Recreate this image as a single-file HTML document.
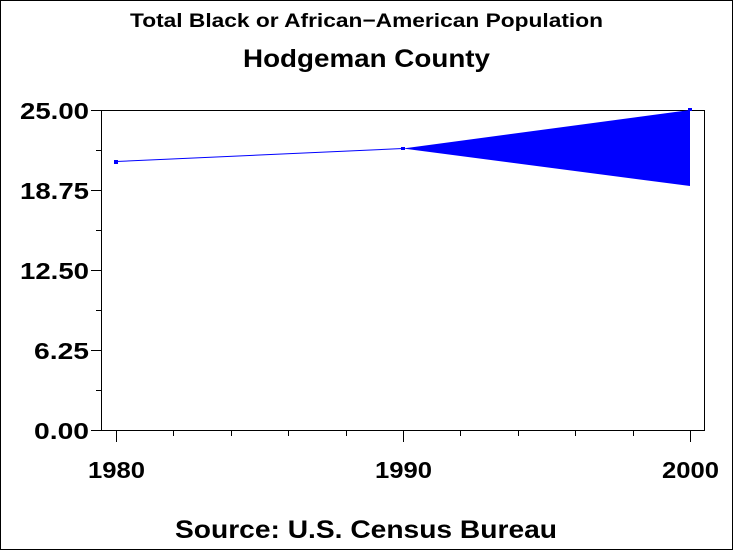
<!DOCTYPE html>
<html><head><style>
body{margin:0}
svg{display:block}
text{font-family:"Liberation Sans",sans-serif;fill:#000;font-weight:bold}
</style></head><body>
<svg width="733" height="550" viewBox="0 0 733 550" xmlns="http://www.w3.org/2000/svg">
<rect x="0.5" y="0.5" width="732" height="549" fill="#fff" stroke="#000"/>
<text x="130" y="27" font-size="19" textLength="473" lengthAdjust="spacingAndGlyphs">Total Black or African−American Population</text>
<text x="243" y="67" font-size="25" textLength="247" lengthAdjust="spacingAndGlyphs">Hodgeman County</text>
<text x="175" y="538" font-size="25" textLength="382" lengthAdjust="spacingAndGlyphs">Source: U.S. Census Bureau</text>
<rect x="101.5" y="110.5" width="603" height="320" fill="none" stroke="#000"/>
<g stroke="#000">
<line x1="91" y1="110.5" x2="101" y2="110.5"/>
<line x1="91" y1="190.5" x2="101" y2="190.5"/>
<line x1="91" y1="270.5" x2="101" y2="270.5"/>
<line x1="91" y1="350.5" x2="101" y2="350.5"/>
<line x1="91" y1="430.5" x2="101" y2="430.5"/>
<line x1="96" y1="150.5" x2="101" y2="150.5"/>
<line x1="96" y1="230.5" x2="101" y2="230.5"/>
<line x1="96" y1="310.5" x2="101" y2="310.5"/>
<line x1="96" y1="390.5" x2="101" y2="390.5"/>
<line x1="116.5" y1="430" x2="116.5" y2="442"/>
<line x1="403.5" y1="430" x2="403.5" y2="442"/>
<line x1="690.5" y1="430" x2="690.5" y2="442"/>
<line x1="173.5" y1="430" x2="173.5" y2="436"/>
<line x1="231.5" y1="430" x2="231.5" y2="436"/>
<line x1="288.5" y1="430" x2="288.5" y2="436"/>
<line x1="346.5" y1="430" x2="346.5" y2="436"/>
<line x1="460.5" y1="430" x2="460.5" y2="436"/>
<line x1="518.5" y1="430" x2="518.5" y2="436"/>
<line x1="575.5" y1="430" x2="575.5" y2="436"/>
<line x1="633.5" y1="430" x2="633.5" y2="436"/>
</g>
<g font-size="23">
<text x="20" y="119" textLength="69" lengthAdjust="spacingAndGlyphs">25.00</text>
<text x="20" y="199" textLength="69" lengthAdjust="spacingAndGlyphs">18.75</text>
<text x="20" y="279" textLength="69" lengthAdjust="spacingAndGlyphs">12.50</text>
<text x="34" y="359" textLength="55" lengthAdjust="spacingAndGlyphs">6.25</text>
<text x="34" y="439" textLength="55" lengthAdjust="spacingAndGlyphs">0.00</text>
<text x="88" y="478" textLength="57" lengthAdjust="spacingAndGlyphs">1980</text>
<text x="375" y="478" textLength="57" lengthAdjust="spacingAndGlyphs">1990</text>
<text x="662" y="478" textLength="57" lengthAdjust="spacingAndGlyphs">2000</text>
</g>
<polyline points="116,161.5 403,148.5" fill="none" stroke="#00f" stroke-width="1"/>
<polygon points="403,148.5 690,110 690,186" fill="#00f"/>
<rect x="114" y="160" width="4" height="4" fill="#00f"/>
<rect x="401" y="147" width="4" height="3" fill="#00f"/>
<rect x="688" y="108" width="4" height="3" fill="#00f"/>
</svg>
</body></html>
